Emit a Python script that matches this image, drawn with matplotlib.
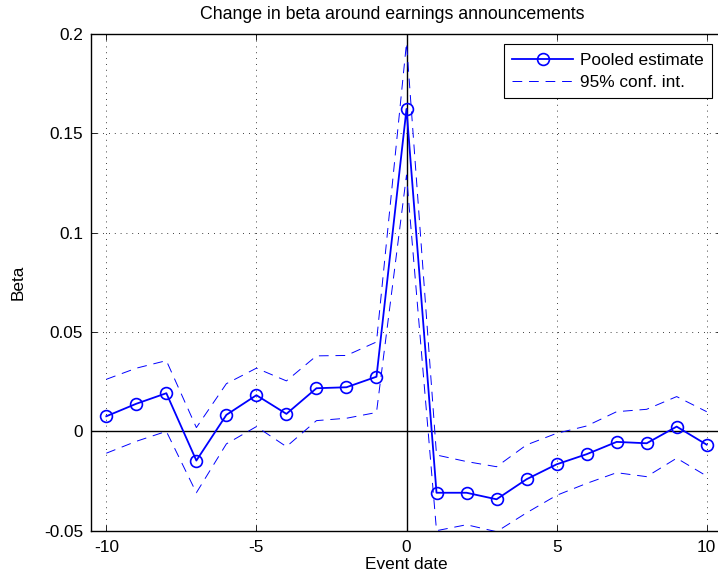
import numpy as np
import matplotlib.pyplot as plt

# event window
days = np.arange(-10, 11)

# pooled estimate of the change in beta
pooled = [0.0076, 0.0139, 0.0192, -0.0147, 0.0083, 0.0182, 0.0088, 0.0217, 0.0222, 0.0275,
          0.1623,
          -0.0309, -0.0309, -0.0342, -0.0241, -0.0166, -0.0115, -0.0053, -0.0060, 0.0024, -0.0067]
# 95% confidence bounds
upper = [0.0262, 0.0318, 0.0356, 0.0019, 0.0240, 0.0318, 0.0254, 0.0380, 0.0382, 0.0450,
         0.1955,
         -0.0119, -0.0152, -0.0178, -0.0068, -0.0010, 0.0027, 0.0099, 0.0111, 0.0175, 0.0099]
lower = [-0.0110, -0.0050, 0.0000, -0.0309, -0.0063, 0.0024, -0.0077, 0.0054, 0.0066, 0.0095,
         0.1290,
         -0.0500, -0.0470, -0.0505, -0.0410, -0.0322, -0.0262, -0.0208, -0.0228, -0.0135, -0.0225]

xticks = [-10, -5, 0, 5, 10]
yticks = [-0.05, 0, 0.05, 0.1, 0.15, 0.2]
ytick_labels = ['-0.05', '0', '0.05', '0.1', '0.15', '0.2']

plt.rcParams['font.family'] = ['Liberation Sans', 'DejaVu Sans']
fs = 12.4

fig = plt.figure(figsize=(7.18, 5.86), dpi=100)
ax = fig.add_axes([91.3 / 718, 55.3 / 586, 630.4 / 718, 496.7 / 586])

ax.plot(days, pooled, color='#0000ff', lw=1.3, marker='o', ms=8.5, mfc='none',
        mec='#0000ff', mew=1.2, label='Pooled estimate', zorder=4)
ax.plot(days, upper, color='#0000ff', lw=0.7, ls=(0, (10, 7)), label='95% conf. int.', zorder=3)
ax.plot(days, lower, color='#0000ff', lw=0.7, ls=(0, (10, 7)), zorder=3)

ax.axhline(0, color='black', lw=1.0, zorder=2)
ax.axvline(0, color='black', lw=1.0, zorder=2)

ax.set_xlim(-10.5, 10.5)
ax.set_ylim(-0.05, 0.2)
ax.set_xticks(xticks)
ax.set_xticklabels([str(t) for t in xticks])
ax.set_yticks(yticks)
ax.set_yticklabels(ytick_labels)
ax.grid(True, color='black', ls=(0, (1, 6)), lw=0.6)
ax.tick_params(direction='in', top=True, right=True, length=4, width=0.6, labelsize=fs)
ax.tick_params(axis='x', pad=7)
ax.tick_params(axis='y', pad=6)
for s in ax.spines.values():
    s.set_linewidth(1.0)

ax.set_title('Change in beta around earnings announcements', fontsize=12.8, pad=11,
             x=(392 - 91.3) / 630.4)
ax.set_xlabel('Event date', fontsize=fs, labelpad=1)
ax.set_ylabel('Beta', fontsize=fs, labelpad=13)

leg = ax.legend(loc='upper right', fancybox=False, framealpha=1,
                edgecolor='black', borderpad=0.5, handlelength=3.5, handletextpad=0.4,
                labelspacing=0.4, borderaxespad=0, fontsize=fs)
leg.set_bbox_to_anchor((712 / 718, (586 - 44) / 586), transform=fig.transFigure)
leg.get_frame().set_linewidth(0.8)

fig.savefig('out.png', dpi=100)
